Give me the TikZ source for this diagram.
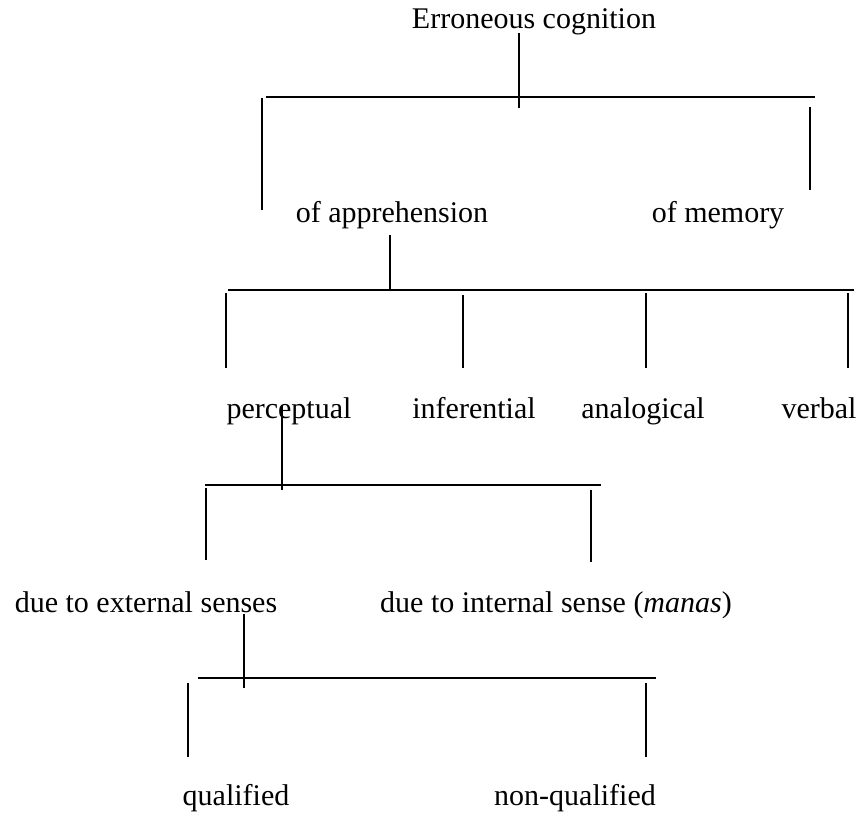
\documentclass[tikz,border=0pt]{standalone}
\usepackage{fontspec}
\setmainfont{Liberation Serif}
\usetikzlibrary{calc}

\begin{document}
\begin{tikzpicture}[x=0.5pt, y=-0.5pt, line width=0.7pt]
	\tikzset{lbl/.style={anchor=base, inner sep=0pt, font=\fontsize{15}{18}\selectfont}}
	\useasboundingbox (0,0) rectangle (864,815);
	\node [lbl] (err) at (534,28) {Erroneous cognition};
	\node [lbl] (appr) at (392,222) {of apprehension};
	\node [lbl] (mem) at (718,222) {of memory};
	\node [lbl] (perc) at (289,418) {perceptual};
	\node [lbl] (infer) at (474,418) {inferential};
	\node [lbl] (analog) at (643,418) {analogical};
	\node [lbl] (verb) at (819,418) {verbal};
	\node [lbl] (ext) at (146,612) {due to external senses};
	\node [lbl] (int) at (556,612) {due to internal sense (\textit{manas})};
	\node [lbl] (qual) at (236,805) {qualified};
	\node [lbl] (nonqual) at (575,805) {non-qualified};
	% cognition
	\coordinate (A1) at (519,33);
	\coordinate (A2) at (519,108);
	\coordinate (B1) at (266,97);
	\coordinate (B2) at (815,97);
	\draw (A1) -- (A2);
	\draw (B1) -- (B2);
	\draw (262,98) coordinate (C1) -- (262,210) coordinate (C2);
	\draw (810,107) coordinate (D1) -- (810,190) coordinate (D2);
	% apprehension
	\coordinate (E1) at (390,235);
	\coordinate (E2) at (390,290);
	\draw (E1) -- (E2);
	\draw (228,290) coordinate (F1) -- (854,290) coordinate (F2);
	\draw (226,293) coordinate (G1) -- (226,368) coordinate (G2);
	\draw (463,295) coordinate (H1) -- (463,368) coordinate (H2);
	\draw (646,293) coordinate (I1) -- (646,368) coordinate (I2);
	\draw (848,293) coordinate (J1) -- (848,368) coordinate (J2);
	% perceptual
	\coordinate (K1) at (282,405);
	\coordinate (K2) at (282,490);
	\draw (K1) -- (K2);
	\draw (205,485) coordinate (L1) -- (601,485) coordinate (L2);
	\draw (206,488) coordinate (M1) -- (206,560) coordinate (M2);
	\draw (591,490) coordinate (N1) -- (591,562) coordinate (N2);
	% external senses
	\coordinate (P1) at (244,614);
	\coordinate (P2) at (244,688);
	\draw (P1) -- (P2);
	\draw (198,678) coordinate (Q1) -- (656,678) coordinate (Q2);
	\draw (188,683) coordinate (R1) -- (188,757) coordinate (R2);
	\draw (646,683) coordinate (S1) -- (646,757) coordinate (S2);
\end{tikzpicture}
\end{document}
